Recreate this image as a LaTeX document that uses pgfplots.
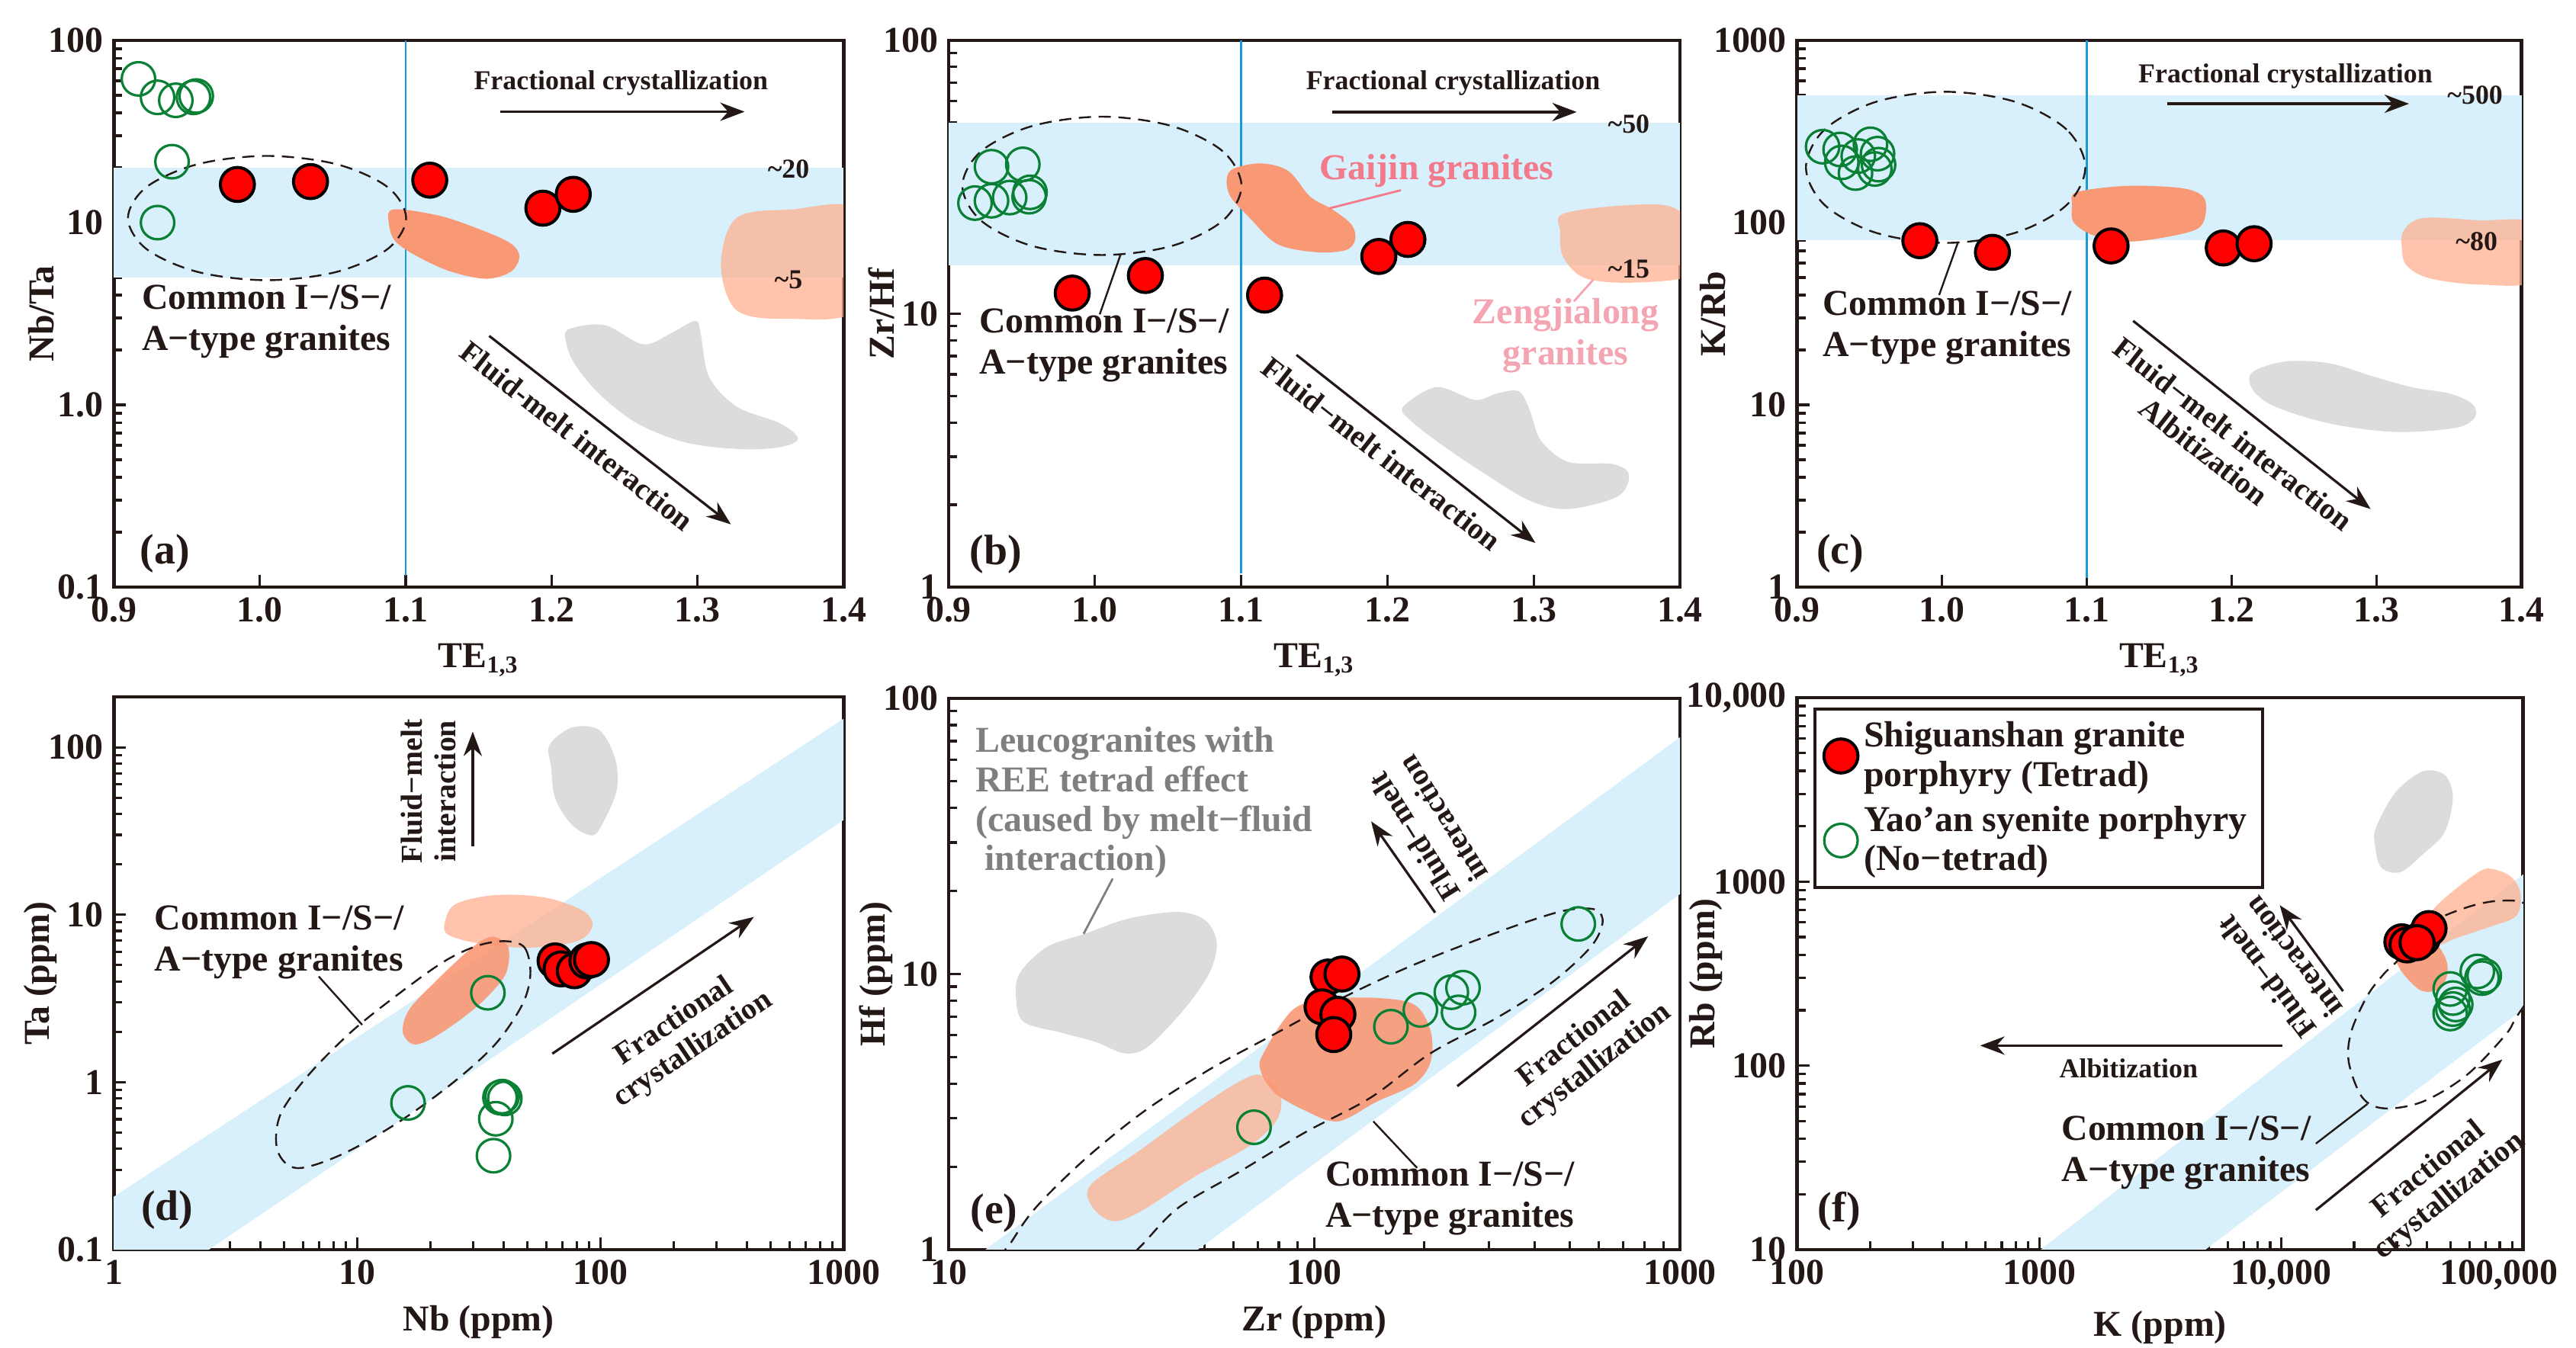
\documentclass[border=0pt]{standalone}
\usepackage{pgfplots}
\pgfplotsset{compat=1.18}
\usepackage{fontspec}
\setmainfont{Liberation Serif}
\usetikzlibrary{arrows.meta}
\definecolor{axcol}{HTML}{231815}
\definecolor{bandblue}{HTML}{D7F0FB}
\definecolor{vlinec}{HTML}{1A9ADB}
\definecolor{orangef}{HTML}{F99874}
\definecolor{peachf}{HTML}{FFB08F}
\definecolor{grayf}{HTML}{DCDCDC}
\definecolor{greenm}{HTML}{0A8035}
\definecolor{pinkt}{HTML}{F27A8A}
\definecolor{pinkt2}{HTML}{F4A5B2}
\definecolor{grayt}{HTML}{7F7F7F}
\tikzset{
 arr/.style={line width=0.8bp, draw=axcol, -{Stealth[length=8bp,width=6bp]}},
 thinl/.style={line width=0.6bp, draw=axcol},
 smalllbl/.style={font=\fontsize{9}{10}\selectfont\bfseries, text=axcol, align=center},
 medlbl/.style={font=\fontsize{10}{11}\selectfont\bfseries, text=axcol, align=center},
 lbl/.style={font=\fontsize{12}{13.5}\selectfont\bfseries, text=axcol, align=left},
 panellbl/.style={font=\fontsize{14}{16}\selectfont\bfseries, text=axcol},
}
\pgfplotsset{
 panel/.style={scale only axis, axis line style={line width=1.2bp, draw=axcol},
  every tick/.style={line width=0.8bp, draw=axcol},
  xtick pos=left, ytick pos=left, tick align=inside,
  major tick length=4bp, minor tick length=2.8bp,
  tick label style={font=\fontsize{12}{14}\selectfont\bfseries, text=axcol},
  label style={font=\fontsize{12}{14}\selectfont\bfseries, text=axcol},
  clip mode=individual, anchor=south west},
 ylpos/.style={ylabel style={at={(axis description cs:#1,0.5)}, anchor=center}},
 fld/.style={draw=none, smooth cycle, tension=0.55, forget plot},
 ell/.style={draw=axcol, line width=0.6bp, dash pattern=on 4bp off 2.5bp, smooth cycle, tension=0.55, forget plot},
 band/.style={draw=none, fill=bandblue, forget plot},
 vl/.style={draw=vlinec, line width=0.7bp, forget plot},
 redm/.style={only marks, mark=*, mark size=5.6pt, mark options={fill=red, draw=black, line width=1bp}},
 greenm/.style={only marks, mark=o, mark size=5.5pt, mark options={draw=greenm, line width=0.8bp}},
}
\begin{document}
\begin{tikzpicture}
\useasboundingbox (0,0) rectangle (844.5bp,442bp);
% ---------------- (a)
\begin{axis}[panel, at={(37.3bp,249.5bp)}, width=239.25bp, height=179.25bp,
 xmin=0.9, xmax=1.4, ymode=log, ymin=0.1, ymax=100,
 xtick={0.9,1,1.1,1.2,1.3,1.4}, xticklabels={0.9,1.0,1.1,1.2,1.3,1.4},
 ytick={0.1,1,10,100}, yticklabels={0.1,1.0,10,100},
 xlabel={TE\textsubscript{1,3}}, ylabel={Nb/Ta}, ylpos=-0.099]
\addplot[band] coordinates {(0.9,5) (1.4,5) (1.4,20) (0.9,20)};
\addplot[vl] coordinates {(1.1,0.115) (1.1,100)};
\addplot[fld, fill=grayf] coordinates {(1.2117,2.60) (1.2362,2.74) (1.2626,2.15) (1.2814,2.46) (1.2983,2.89) (1.3021,2.46) (1.3078,1.43) (1.3266,0.98) (1.3567,0.79) (1.3688,0.653) (1.3567,0.586) (1.3303,0.571) (1.2927,0.619) (1.2588,0.79) (1.2325,1.15) (1.2155,1.69) (1.2099,2.21)};
\addplot[fld, fill=peachf, fill opacity=0.75] coordinates {(1.3266,10.6) (1.3642,11.8) (1.41,11.5) (1.41,3.4) (1.3605,2.97) (1.3266,3.31) (1.316,5.85)};
\addplot[fld, fill=orangef] coordinates {(1.0913,11.8) (1.1233,10.9) (1.1534,9.01) (1.1722,7.66) (1.1779,6.51) (1.1722,5.39) (1.1553,4.92) (1.1308,5.39) (1.1082,6.51) (1.0931,7.87) (1.0886,9.77)};
\addplot[ell] coordinates {(1.1003,10.59) (1.0875,15.69) (1.0527,20.91) (1.005,23.23) (0.9574,20.91) (0.9225,15.69) (0.9097,10.59) (0.9225,7.153) (0.9574,5.366) (1.005,4.831) (1.0527,5.366) (1.0875,7.153)};
\addplot[greenm] coordinates {(0.9508,101.6) (0.9169,61.5) (0.930,48.7) (0.9425,46.9) (0.9546,48.7) (0.9565,49.5) (0.9399,21.6) (0.930,10.0)};
\addplot[redm] coordinates {(0.9847,16.2) (1.0348,16.8) (1.1165,17.1) (1.194,12.0) (1.2148,14.3)};
\draw[arr] (1.1647,40.6) -- (1.3322,40.6);
\node[smalllbl] at (1.2475,58.2) {Fractional crystallization};
\node[smalllbl] at (1.3623,19.7) {\textasciitilde20};
\node[smalllbl] at (1.3623,4.84) {\textasciitilde5};
\draw[arr] (1.1572,2.39) -- (1.3228,0.221);
\node[medlbl, rotate=-38] at (1.2174,0.675) {Fluid-melt interaction};
\node[lbl] at (1.0047,2.85) {Common I−/S−/\\A−type granites};
\node[panellbl] at (0.935,0.152) {(a)};
\end{axis}
% ---------------- (b)
\begin{axis}[panel, at={(311bp,249.5bp)}, width=239.75bp, height=179.25bp,
 xmin=0.9, xmax=1.4, ymode=log, ymin=1, ymax=100,
 xtick={0.9,1,1.1,1.2,1.3,1.4}, xticklabels={0.9,1.0,1.1,1.2,1.3,1.4},
 ytick={1,10,100}, yticklabels={1,10,100},
 xlabel={TE\textsubscript{1,3}}, ylabel={Zr/Hf}, ylpos=-0.092]
\addplot[band] coordinates {(0.9,15) (1.4,15) (1.4,50) (0.9,50)};
\addplot[vl] coordinates {(1.1,1.12) (1.1,100)};
\addplot[fld, fill=grayf] coordinates {(1.211,4.58) (1.2336,5.39) (1.2599,4.84) (1.2749,5.11) (1.2899,5.20) (1.2974,4.42) (1.305,3.43) (1.3237,2.87) (1.3538,2.82) (1.3651,2.58) (1.3576,2.15) (1.3237,1.93) (1.2974,2.07) (1.2674,2.58) (1.2373,3.31) (1.2148,4.11)};
\addplot[fld, fill=peachf, fill opacity=0.75] coordinates {(1.32,23.2) (1.3613,24.9) (1.3951,24.5) (1.41,19.4) (1.41,14.0) (1.3688,13.0) (1.335,13.5) (1.32,16.2) (1.3181,20.1)};
\addplot[fld, fill=orangef] coordinates {(1.0946,33.9) (1.1134,35.5) (1.1322,33.3) (1.1472,26.8) (1.1622,24.1) (1.1754,21.2) (1.178,18.7) (1.1716,17.1) (1.1509,16.8) (1.1246,18.0) (1.1059,22.4) (1.0927,26.8) (1.0901,31.0)};
\addplot[ell] coordinates {(1.1002,29.35) (1.0874,39.3) (1.0525,48.6) (1.0048,52.6) (0.9571,48.6) (0.9222,39.3) (0.9094,29.35) (0.9222,21.9) (0.9571,17.7) (1.0048,16.4) (1.0525,17.7) (1.0874,21.9)};
\addplot[greenm] coordinates {(0.9293,34.5) (0.9507,35.2) (0.918,25.4) (0.9293,25.9) (0.9417,26.6) (0.9556,27.8) (0.955,26.8)};
\addplot[redm] coordinates {(0.9845,11.9) (1.0345,13.8) (1.116,11.7) (1.1941,16.2) (1.214,18.7)};
\draw[arr] (1.1622,54.7) -- (1.3294,54.7);
\node[smalllbl] at (1.2449,69.7) {Fractional crystallization};
\node[smalllbl] at (1.365,49.5) {\textasciitilde50};
\node[smalllbl] at (1.365,14.6) {\textasciitilde15};
\node[font=\fontsize{12}{13.5}\selectfont\bfseries, text=pinkt] at (1.2336,33.2) {Gaijin granites};
\draw[pinkt, line width=0.7bp] (1.1603,24.3) -- (1.2092,28.3);
\node[font=\fontsize{12}{13.5}\selectfont\bfseries, text=pinkt2, align=center] at (1.3219,8.3) {Zengjialong\\granites};
\draw[pinkt2, line width=0.7bp] (1.3406,13.3) -- (1.3275,11.1);
\draw[arr] (1.1378,7.07) -- (1.3012,1.45);
\node[medlbl, rotate=-38] at (1.196,3.08) {Fluid−melt interaction};
\node[lbl] at (1.0063,7.67) {Common I−/S−/\\A−type granites};
\draw[thinl] (1.0176,16.5) -- (1.0033,9.95);
\node[panellbl] at (0.9323,1.32) {(b)};
\end{axis}
% ---------------- (c)
\begin{axis}[panel, at={(589.2bp,249.5bp)}, width=237.5bp, height=179.25bp,
 xmin=0.9, xmax=1.4, ymode=log, ymin=1, ymax=1000,
 xtick={0.9,1,1.1,1.2,1.3,1.4}, xticklabels={0.9,1.0,1.1,1.2,1.3,1.4},
 ytick={1,10,100,1000}, yticklabels={1,10,100,1000},
 xlabel={TE\textsubscript{1,3}}, ylabel={K/Rb}, ylpos=-0.116]
\addplot[band] coordinates {(0.9,80) (1.4,80) (1.4,500) (0.9,500)};
\addplot[vl] coordinates {(1.1,1.12) (1.1,1000)};
\addplot[fld, fill=grayf] coordinates {(1.2141,15.1) (1.2369,17.3) (1.2672,16.9) (1.2976,14.3) (1.3241,12.5) (1.3507,11.5) (1.3659,10.1) (1.3678,8.57) (1.3545,7.48) (1.3127,7.10) (1.2672,7.91) (1.2293,9.82) (1.2141,12.2)};
\addplot[fld, fill=peachf, fill opacity=0.75] coordinates {(1.3184,90.1) (1.3317,105.9) (1.3696,103) (1.41,97.7) (1.41,48.4) (1.3696,45.8) (1.3355,49.7) (1.3203,58.5) (1.3173,72.6)};
\addplot[fld, fill=orangef] coordinates {(1.0927,146.6) (1.1269,159) (1.1648,154.8) (1.18,139) (1.1819,112) (1.1762,92.5) (1.1534,83.0) (1.1269,78.7) (1.1041,85.3) (1.0908,100.4) (1.0897,124.7)};
\addplot[ell] coordinates {(1.0988,201.2) (1.0859,324.2) (1.0506,459.7) (1.0024,522.4) (0.9542,459.7) (0.9189,324.2) (0.906,201.2) (0.9189,124.9) (0.9542,88.0) (1.0024,77.4) (1.0506,88.0) (1.0859,124.9)};
\addplot[greenm] coordinates {(0.9175,261) (0.9296,252) (0.9505,269) (0.9421,232) (0.9554,239) (0.9307,214) (0.9402,187) (0.9535,197) (0.9561,208)};
\addplot[redm] coordinates {(0.9846,79.6) (1.0347,68.7) (1.1166,74.5) (1.194,72.6) (1.2153,76.6)};
\draw[arr] (1.1553,449) -- (1.3222,449);
\node[smalllbl] at (1.2369,638) {Fractional crystallization};
\node[smalllbl] at (1.3678,503) {\textasciitilde500};
\node[smalllbl] at (1.3689,78.7) {\textasciitilde80};
\draw[arr] (1.1318,28.9) -- (1.2957,2.68);
\node[medlbl, rotate=-38] at (1.2008,6.9) {Fluid−melt interaction};
\node[medlbl, rotate=-38] at (1.1807,5.56) {Albitization};
\node[lbl] at (1.0036,26.4) {Common I−/S−/\\A−type granites};
\draw[thinl] (1.0111,78.7) -- (0.9979,40.0);
\node[panellbl] at (0.9296,1.52) {(c)};
\end{axis}
% ---------------- (d)
\begin{axis}[panel, at={(37.3bp,32.25bp)}, width=239.25bp, height=181.25bp,
 xmode=log, ymode=log, xmin=1, xmax=1000, ymin=0.1, ymax=200,
 xtick={1,10,100,1000}, xticklabels={1,10,100,1000},
 ytick={0.1,1,10,100}, yticklabels={0.1,1,10,100},
 xlabel={Nb (ppm)}, ylabel={Ta (ppm)}, ylpos=-0.101]
\addplot[band] coordinates {(1,0.207) (1000,148) (1000,36.8) (2.46,0.1) (1,0.1)};
\addplot[fld, fill=grayf] coordinates {(61.8,103) (76.2,131) (98.8,127) (115,85.9) (117,56.2) (104,36.8) (92.9,29.8) (76.2,34.6) (65.2,49.8) (62.8,76.2)};
\addplot[fld, fill=peachf, fill opacity=0.75] coordinates {(23.0,9.14) (25.5,11.6) (36.8,13.1) (58.7,12.7) (84.5,10.6) (92.9,8.59) (80.2,6.95) (50.2,6.35) (31.5,6.75) (23.6,7.62)};
\addplot[fld, fill=orangef, fill opacity=0.9] coordinates {(36.8,7.38) (41.9,6.35) (40.8,4.42) (33.1,3.07) (25.5,2.26) (19.7,1.78) (16.9,1.69) (15.4,2.01) (16.4,2.72) (20.7,3.91) (26.9,5.62) (32.3,6.95)};
\addplot[ell] coordinates {(40.8,6.95) (48.9,6.35) (51.6,4.42) (47.7,2.89) (36.8,1.67) (24.3,0.97) (14.4,0.562) (8.57,0.368) (5.65,0.307) (4.71,0.391) (4.83,0.635) (6.27,1.09) (9.51,2.01) (15.2,3.46) (23.0,5.30) (31.5,6.55)};
\addplot[greenm] coordinates {(34.5,3.42) (16.2,0.752) (38.7,0.809) (39.5,0.82) (40.5,0.80) (37.2,0.605) (36.4,0.364)};
\addplot[redm] coordinates {(65.2,5.30) (69,4.75) (78.2,4.63) (88.1,5.30) (92,5.4)};
\draw[arr] (29.9,25.6) -- (29.9,124);
\node[medlbl, rotate=90] at (19.7,54.6) {Fluid−melt\\interaction};
\draw[arr] (63.5,1.48) -- (428,9.7);
\node[medlbl, rotate=34] at (221,1.89) {Fractional\\crystallization};
\node[lbl] at (4.79,6.87) {Common I−/S−/\\A−type granites};
\draw[thinl] (10.5,2.20) -- (6.96,4.28);
\node[panellbl] at (1.66,0.173) {(d)};
\end{axis}
% ---------------- (e)
\begin{axis}[panel, at={(311bp,32.25bp)}, width=239.75bp, height=180.75bp,
 xmode=log, ymode=log, xmin=10, xmax=1000, ymin=1, ymax=100,
 xtick={10,100,1000}, xticklabels={10,100,1000},
 ytick={1,10,100}, yticklabels={1,10,100},
 xlabel={Zr (ppm)}, ylabel={Hf (ppm)}, ylpos=-0.099]
\addplot[band] coordinates {(12.6,1) (1000,72.3) (1000,19.5) (48,1)};
\addplot[fld, fill=grayf] coordinates {(15.6,10.0) (18.5,12.5) (23.6,14.0) (31.1,15.9) (42.5,16.8) (50.5,15.6) (54.1,13.0) (52.2,10.4) (47.1,8.34) (41.0,6.68) (34.5,5.36) (30.1,5.16) (25.3,5.66) (20.6,6.10) (16.1,6.68) (15.3,8.04)};
\addplot[fld, fill=peachf, fill opacity=0.75] coordinates {(24.4,1.71) (33.3,2.29) (47.1,3.20) (62.1,4.06) (71.3,4.30) (80.5,3.71) (79.2,2.97) (66.5,2.38) (47.1,1.84) (33.3,1.37) (28.1,1.27) (24.8,1.42)};
\addplot[fld, fill=orangef, fill opacity=0.9] coordinates {(72.6,5.16) (87.9,7.47) (112,8.11) (148,8.19) (188,7.74) (208,6.21) (208,4.80) (188,3.99) (148,3.44) (116,2.92) (94.2,3.20) (77.8,3.71) (71.3,4.46)};
\addplot[ell] coordinates {(13.1,0.816) (14.8,1.06) (17.3,1.42) (23.6,2.13) (34.5,3.20) (52.2,4.54) (76.5,5.98) (116,8.04) (175,10.4) (266,13.0) (389,15.6) (496,17.1) (589,17.1) (614,15.3) (569,12.5) (447,9.33) (316,6.94) (208,5.16) (143,3.57) (94.2,2.66) (62.1,1.91) (42.5,1.42) (33.3,1.02) (26.2,0.758) (17.9,0.655)};
\addplot[greenm] coordinates {(527,15.2) (162,6.44) (195,7.41) (237,8.59) (255,8.92) (248,7.26) (68.4,2.78)};
\addplot[redm] coordinates {(109,9.75) (119,10.0) (105,7.6) (116,7.14) (113,6.03)};
\node[font=\fontsize{12}{13}\selectfont\bfseries, text=grayt, align=left, anchor=north west, inner sep=0pt] at (11.8,79.3) {Leucogranites with\\REE tetrad effect\\(caused by melt−fluid\\\hspace*{0.25em}interaction)};
\draw[grayt, line width=0.7bp] (23.4,14.0) -- (28.1,22.2);
\draw[arr] (214,16.7) -- (143,35.8);
\node[medlbl, rotate=122] at (205,33.9) {Fluid−melt\\interaction};
\draw[arr] (246,3.92) -- (818,13.7);
\node[medlbl, rotate=38] at (550,5.16) {Fractional\\crystallization};
\node[lbl] at (235,1.53) {Common I−/S−/\\A−type granites};
\draw[thinl] (145,2.92) -- (191,1.98);
\node[panellbl] at (13.3,1.36) {(e)};
\end{axis}
% ---------------- (f)
\begin{axis}[panel, at={(589.2bp,32.25bp)}, width=238bp, height=181bp,
 xmode=log, ymode=log, xmin=100, xmax=100000, ymin=10, ymax=10000,
 xtick={100,1000,10000,100000}, xticklabels={100,1000,{10,000},{100,000\hspace*{16bp}}},
 ytick={10,100,1000,10000}, yticklabels={10,100,1000,{10,000}},
 xlabel={K (ppm)}, ylabel={Rb (ppm)}, ylpos=-0.126,
 legend style={at={(0.022,0.982)}, anchor=north west, draw=axcol, line width=1bp,
  font=\fontsize{12}{13}\selectfont\bfseries, text=axcol,
  cells={anchor=west, align=left}, inner xsep=3bp, inner ysep=2bp, row sep=1bp}]
\addplot[band] coordinates {(1014,10) (100000,1096) (100000,203) (4864,10)};
\addplot[fld, fill=grayf] coordinates {(24600,1959) (29600,3048) (38400,3975) (47300,3802) (51200,2884) (47300,1854) (38400,1406) (31100,1127) (25900,1191) (24400,1570)};
\addplot[fld, fill=orangef, fill opacity=0.9] coordinates {(29600,441) (40500,492) (47300,394) (48600,316) (45000,261) (38400,254) (33700,291) (30300,353)};
\addplot[fld, fill=peachf, fill opacity=0.75] coordinates {(45000,766) (61500,1067) (71900,1178) (88700,1067) (97500,855) (93300,649) (71900,565) (52600,492) (45000,453) (40500,479) (38400,581)};
\addplot[ell] coordinates {(30300,373) (40400,581) (58300,724) (79800,787) (104000,745) (128000,492) (115000,283) (93300,182) (84100,146) (58300,88.7) (38400,63.7) (26600,58.6) (21600,67.3) (19000,105) (19500,154) (22700,240) (26600,316)};
\addplot[redm] coordinates {(31500,471) (33100,453) (38300,492) (40800,556) (36400,466)};
\addlegendentry{Shiguanshan granite\\porphyry (Tetrad)}
\addplot[greenm] coordinates {(64600,325) (67500,299) (69000,308) (49900,261) (51200,233) (51200,203) (49900,192) (52600,215)};
\addlegendentry{Yao’an syenite porphyry\\(No−tetrad)}
\draw[arr] (10100,128.5) -- (570,128.5);
\node[smalllbl] at (2340,96.4) {Albitization};
\draw[arr] (18000,254) -- (9860,745);
\node[medlbl, rotate=127] at (9860,344) {Fluid−melt\\interaction};
\draw[arr] (13900,16.4) -- (82000,108);
\node[medlbl, rotate=39] at (45000,22.9) {Fractional\\crystallization};
\node[lbl] at (4050,33.7) {Common I−/S−/\\A−type granites};
\draw[thinl] (22700,61.9) -- (13900,37.7);
\node[panellbl] at (149,16.2) {(f)};
\end{axis}
\end{tikzpicture}
\end{document}
